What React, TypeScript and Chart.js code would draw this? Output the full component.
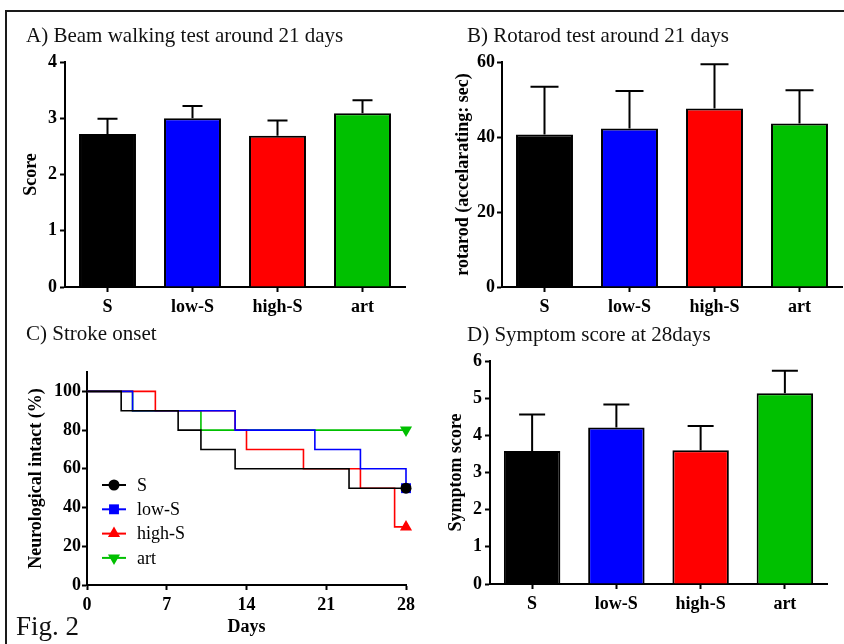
import React, { useEffect, useRef } from 'react';
import { Chart, registerables } from 'chart.js';

Chart.register(...registerables);

const FONT = "'Liberation Serif', 'Times New Roman', Times, serif";

// ---- data ----
const groups = ['S', 'low-S', 'high-S', 'art'];
const groupColors = ['#000000', '#0000ff', '#ff0000', '#00c000'];

const beamMean = [2.72, 3.0, 2.69, 3.09];
const beamErr = [0.27, 0.22, 0.27, 0.23];

const rotarodMean = [40.7, 42.3, 47.6, 43.6];
const rotarodErr = [12.7, 10.0, 11.8, 8.9];

const symptomMean = [3.58, 4.21, 3.6, 5.13];
const symptomErr = [0.98, 0.62, 0.65, 0.61];

const sDays = [0, 3, 8, 10, 13, 23, 28];
const sIntact = [100, 90, 80, 70, 60, 50, 50];
const lowDays = [0, 4, 13, 20, 24, 28];
const lowIntact = [100, 90, 80, 70, 60, 50];
const highDays = [0, 6, 13, 14, 19, 24, 27, 28];
const highIntact = [100, 90, 80, 70, 60, 50, 30, 30];
const artDays = [0, 4, 10, 28];
const artIntact = [100, 90, 80, 80];

const dayTicks = [0, 7, 14, 21, 28];
const intactTicks = [0, 20, 40, 60, 80, 100];

const kmSeries = [
  { label: 'S', days: sDays, values: sIntact, color: '#000000', style: 'circle', rotation: 0, radius: 5.5 },
  { label: 'low-S', days: lowDays, values: lowIntact, color: '#0000ff', style: 'rect', rotation: 0, radius: 7 },
  { label: 'high-S', days: highDays, values: highIntact, color: '#ff0000', style: 'triangle', rotation: 0, radius: 7 },
  { label: 'art', days: artDays, values: artIntact, color: '#00c000', style: 'triangle', rotation: 180, radius: 7 },
];

const tickFont = { family: FONT, size: 18, weight: 'bold' as const };
const titleFont = { family: FONT, size: 18, weight: 'bold' as const };

function makeErrorBars(errs: number[], cap: number) {
  return {
    id: 'errorBars',
    afterDatasetsDraw(chart: any) {
      const { ctx } = chart;
      const meta = chart.getDatasetMeta(0);
      const yScale = chart.scales.y;
      const means = chart.data.datasets[0].data as number[];
      ctx.save();
      ctx.strokeStyle = '#000';
      ctx.lineWidth = 2;
      meta.data.forEach((bar: any, i: number) => {
        const yTop = yScale.getPixelForValue(means[i]);
        const yErr = yScale.getPixelForValue(means[i] + errs[i]);
        ctx.beginPath();
        ctx.moveTo(bar.x, yTop);
        ctx.lineTo(bar.x, yErr);
        ctx.moveTo(bar.x - cap, yErr);
        ctx.lineTo(bar.x + cap, yErr);
        ctx.stroke();
      });
      ctx.restore();
    },
  };
}

function drawMarker(ctx: CanvasRenderingContext2D, style: string, rotation: number, x: number, y: number, r: number, color: string) {
  ctx.save();
  ctx.fillStyle = color;
  ctx.beginPath();
  if (style === 'circle') {
    ctx.arc(x, y, r, 0, Math.PI * 2);
  } else if (style === 'rect') {
    const s = Math.SQRT1_2 * r;
    ctx.rect(x - s, y - s, 2 * s, 2 * s);
  } else {
    const dir = rotation === 180 ? -1 : 1;
    const h = r * 1.5;
    const w = r * Math.sin(Math.PI / 3);
    ctx.moveTo(x, y - dir * r);
    ctx.lineTo(x + w, y - dir * (r - h));
    ctx.lineTo(x - w, y - dir * (r - h));
    ctx.closePath();
  }
  ctx.fill();
  ctx.restore();
}

const kmLegendPlugin = {
  id: 'kmLegend',
  afterDraw(chart: any) {
    const ctx: CanvasRenderingContext2D = chart.ctx;
    const top = 145;
    const gap = 24.3;
    kmSeries.forEach((s, i) => {
      const y = top + i * gap;
      ctx.save();
      ctx.strokeStyle = s.color;
      ctx.lineWidth = 2;
      ctx.beginPath();
      ctx.moveTo(102, y);
      ctx.lineTo(126, y);
      ctx.stroke();
      ctx.restore();
      drawMarker(ctx, s.style, s.rotation, 114, y, s.radius, s.color);
      ctx.save();
      ctx.fillStyle = '#000';
      ctx.font = `18px ${FONT}`;
      ctx.textBaseline = 'middle';
      ctx.textAlign = 'left';
      ctx.fillText(s.label, 137, y + 1);
      ctx.restore();
    });
  },
};

type Geom = {
  yWidth: number; xHeight: number; padTop: number; padRight: number;
  titlePad: number; yLabelPad: number; cap: number;
};

function axisCommon() {
  return {
    grid: { display: true, drawOnChartArea: false, drawTicks: true, tickLength: 5, tickWidth: 2, tickColor: '#000', offset: false },
    border: { display: true, color: '#000', width: 2 },
  };
}

function barConfig(means: number[], errs: number[], yMax: number, yStep: number, yTitle: string, g: Geom): any {
  return {
    type: 'bar',
    data: {
      labels: groups,
      datasets: [{
        data: means,
        backgroundColor: groupColors,
        borderColor: '#000',
        borderWidth: 2,
        borderSkipped: 'start',
        barPercentage: 0.67,
        categoryPercentage: 1,
      }],
    },
    options: {
      animation: false,
      responsive: false,
      events: [],
      layout: { padding: { top: g.padTop, right: g.padRight, bottom: 0, left: 0 } },
      plugins: { legend: { display: false }, tooltip: { enabled: false } },
      scales: {
        x: {
          type: 'category',
          offset: true,
          z: 1,
          ...axisCommon(),
          ticks: { color: '#000', font: tickFont, padding: 5, maxRotation: 0, autoSkip: false },
          afterFit: (s: any) => { s.height = g.xHeight; },
        },
        y: {
          min: 0,
          max: yMax,
          z: 1,
          ...axisCommon(),
          ticks: { stepSize: yStep, color: '#000', font: tickFont, padding: g.yLabelPad },
          title: { display: true, text: yTitle, color: '#000', font: titleFont, padding: { top: g.titlePad, bottom: 0 } },
          afterFit: (s: any) => { s.width = g.yWidth; },
        },
      },
    },
    plugins: [makeErrorBars(errs, g.cap)],
  };
}

function kmConfig(): any {
  return {
    type: 'line',
    data: {
      datasets: kmSeries.map((s) => ({
        label: s.label,
        data: s.days.map((d, i) => ({ x: d, y: s.values[i] })),
        borderColor: s.color,
        backgroundColor: s.color,
        borderWidth: 1.6,
        stepped: 'before',
        fill: false,
        clip: false,
        pointStyle: s.style,
        pointRotation: s.rotation,
        pointRadius: s.days.map((_, i) => (i === s.days.length - 1 ? s.radius : 0)),
        pointBorderWidth: 0,
      })),
    },
    options: {
      animation: false,
      responsive: false,
      events: [],
      layout: { padding: { top: 32, right: 16, bottom: 0, left: 0 } },
      plugins: { legend: { display: false }, tooltip: { enabled: false } },
      scales: {
        x: {
          type: 'linear',
          min: 0,
          max: 28,
          z: 1,
          ...axisCommon(),
          ticks: { stepSize: 7, color: '#000', font: tickFont, padding: 5, maxRotation: 0 },
          afterBuildTicks: (s: any) => { s.ticks = dayTicks.map((v) => ({ value: v })); },
          title: { display: true, text: 'Days', color: '#000', font: titleFont, padding: { top: 0, bottom: 2 } },
          afterFit: (s: any) => { s.height = 55; },
        },
        y: {
          type: 'linear',
          min: 0,
          max: 110,
          z: 1,
          ...axisCommon(),
          ticks: { stepSize: 20, color: '#000', font: tickFont, padding: 1 },
          afterBuildTicks: (s: any) => { s.ticks = intactTicks.map((v) => ({ value: v })); },
          title: { display: true, text: 'Neurological intact (%)', color: '#000', font: titleFont, padding: { top: 26, bottom: 0 } },
          afterFit: (s: any) => { s.width = 87; },
        },
      },
    },
    plugins: [kmLegendPlugin],
  };
}

function ChartCanvas({ config, left, top, width, height }: { config: () => any; left: number; top: number; width: number; height: number }) {
  const ref = useRef<HTMLCanvasElement | null>(null);
  useEffect(() => {
    if (!ref.current) return;
    const chart = new Chart(ref.current, config());
    return () => chart.destroy();
  }, []);
  return (
    <canvas
      ref={ref}
      width={width}
      height={height}
      style={{ position: 'absolute', left, top, width, height, display: 'block' }}
    />
  );
}

const panelTitle = (text: string, left: number, top: number, size = 21) => (
  <div
    style={{
      position: 'absolute', left, top, fontFamily: FONT, fontSize: size,
      lineHeight: `${size}px`, whiteSpace: 'nowrap', color: '#111',
    }}
  >
    {text}
  </div>
);

export default function App() {
  return (
    <div style={{ position: 'absolute', left: 0, top: 0, width: 844, height: 644, overflow: 'hidden', background: '#fff' }}>
      <div
        style={{
          position: 'absolute', left: 5, top: 10, width: 837, height: 632,
          borderTop: '2px solid #1a1a1a', borderLeft: '2px solid #1a1a1a',
        }}
      />
      <ChartCanvas
        left={0} top={40} width={420} height={290}
        config={() => barConfig(beamMean, beamErr, 4, 1, 'Score',
          { yWidth: 65, xHeight: 43, padTop: 22, padRight: 15, titlePad: 21, yLabelPad: 3, cap: 10 })}
      />
      <ChartCanvas
        left={422} top={40} width={422} height={290}
        config={() => barConfig(rotarodMean, rotarodErr, 60, 20, 'rotarod (accelarating: sec)',
          { yWidth: 80, xHeight: 43, padTop: 22, padRight: 2, titlePad: 31, yLabelPad: 2, cap: 14 })}
      />
      <ChartCanvas left={0} top={340} width={422} height={300} config={kmConfig} />
      <ChartCanvas
        left={422} top={340} width={422} height={300}
        config={() => barConfig(symptomMean, symptomErr, 6, 1, 'Symptom score',
          { yWidth: 68, xHeight: 56, padTop: 21, padRight: 17, titlePad: 24, yLabelPad: 3, cap: 13 })}
      />
      {panelTitle('A) Beam walking test around 21 days', 26, 25.4)}
      {panelTitle('B) Rotarod test around 21 days', 467, 25.4)}
      {panelTitle('C) Stroke onset', 26, 323.4)}
      {panelTitle('D) Symptom score at 28days', 467, 324.4)}
      {panelTitle('Fig. 2', 16, 613, 27)}
    </div>
  );
}
